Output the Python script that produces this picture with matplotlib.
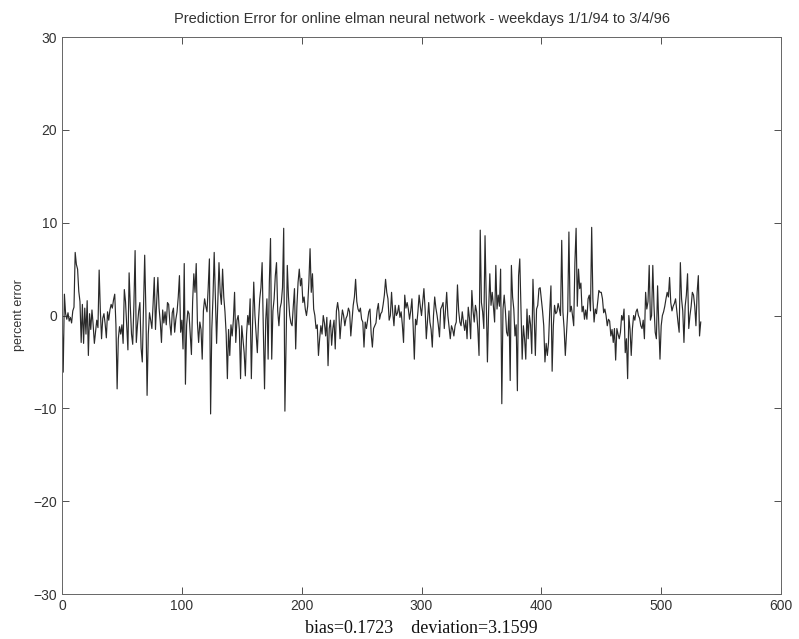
import matplotlib
matplotlib.use("Agg")
import matplotlib.pyplot as plt
import numpy as np

errors_a = [
    0.3, -6.1, 2.3, 0.2, -0.4, 0.3, -0.6, -0.2, -0.8, 0.5,
    0.9, 6.8, 5.5, 5.0, 2.6, 1.5, -2.9, 1.2, -3.0, 0.8,
    -2.0, 1.6, -4.3, 0.2, -1.5, 0.6, -1.0, -3.0, -1.8, -0.5,
    -1.3, 4.9, 0.5, -2.5, -0.3, 0.2, -0.9, -2.4, 0.4, -0.5,
    0.6, 1.2, 0.8, 1.7, 2.3, -1.0, -7.9, -2.5, -1.2, -2.0,
    -1.0, -3.0, 2.8, 1.5, -1.0, -3.7, 4.6, 1.0, -2.0, -3.1,
    1.2, 7.0, -2.9, -1.0, 0.5, 1.4,
]
errors_b = [
    -3.5, -5.0, 1.0, 6.5, 0.5, -8.6, -2.0, 0.3, -0.5, -1.4,
    1.2, 4.1, -1.5, 1.5, 4.1, 0.8, -0.7, -2.9, 0.6, -0.8,
    0.4, -1.0, 1.4, 1.2, -0.8, -2.1, 0.3, 0.8, -1.8, -0.4,
    0.4, 2.0, 4.3, -1.8, -0.5, -3.6, 5.6, -7.4, -1.0, 0.5,
    0.2, -2.0, -4.2, 1.5, 4.5, 2.5, 5.6, -0.8, -2.9, -0.7,
    -1.5, -4.7, 0.5, 1.8, 1.0, 0.4, 3.0, 6.1, -10.6, -1.5,
    2.0, 6.8,
]
errors_c = [
    2.0, -3.0, 1.5, 5.7, 2.5, 1.2, 5.0, 2.0, 0.4, -2.0,
    -6.8, -1.5, -4.3, -1.0, -2.2, -0.5, 2.5, -2.9, -0.5, 0.0,
    -1.5, -6.8, -1.1, -2.5, -4.0, -6.5, -2.0, 0.0, -1.0, 1.8,
    -6.8, -1.0, 3.6, 0.0, -2.0, -4.0, -0.5, 1.8, 3.0, 5.7,
    -1.5, -7.9, -0.5, 1.8, -4.7, 3.5, 8.3, -4.7, 0.5, 1.8,
    4.3, 5.7, 0.5, -1.1, 0.8, 1.4, 3.0, 9.4, -10.3, -2.9,
    5.4, 2.0, 0.0, -0.8, -1.1, 1.0, 2.9,
]
errors_d = [
    -3.6, 1.0, 3.6, 5.0, 3.2, 4.0, 1.4, 2.0, 0.7, 0.0,
    1.0, 3.6, 7.2, 2.5, 4.5, 0.7, 0.0, -1.4, -1.0, -4.3,
    -2.5, -1.1, -2.0, 0.0, -0.8, -2.2, -0.2, -5.4, -1.4, -0.5,
    -3.2, -1.4, -0.5, -3.6, 0.5, 1.4, 0.4, -2.5, -0.7, 0.6,
    0.0, -1.1, -0.3, 0.0, 0.8, 0.4, -2.2, -0.5, 1.1, 2.0,
    3.9, 1.5, 0.7, 0.4, 0.8, -0.4, -0.7, -3.4, -0.7, -1.4,
    -0.5, 0.4, 0.7, -2.0, -3.4, -1.4, -1.1, -0.8, 0.6, 1.3,
    -0.4,
]
errors_e = [
    0.2, 0.4, 1.2, 2.2, 3.9, 2.5, 1.8, -0.5, 0.0, 2.5,
    0.3, -1.1, 1.1, 0.0, 0.3, 1.1, -0.2, 0.4, -1.0, -2.9,
    2.2, 0.8, 1.4, 0.7, -0.4, 0.5, 1.8, -1.1, -4.7, -0.4,
    -1.0, 0.4, 2.2, 1.0, 0.0, 1.5, 2.9, 0.7, -2.5, -0.5,
    1.4, -0.7, -1.5, -3.4, 0.0, 2.0, 0.8, 0.0, -1.0, -2.3,
    0.7, 1.0, 1.4, -1.4, 0.5, 2.5, 0.0, -1.2, -2.5, -1.1,
    -1.5, -2.2, -1.1, -0.7, 3.3, 0.5, -0.7,
]
errors_f = [
    -1.1, 0.4, -0.7, -1.6, -0.5, -2.5, 0.9, -0.3, -2.5, 2.7,
    0.5, -0.7, 1.1, 0.4, -1.5, -4.3, 9.2, 1.4, 0.4, -1.4,
    8.6, 2.0, -5.0, 0.5, 4.5, 1.1, 2.5, 1.0, -0.7, 5.4,
    0.7, 2.2, 1.0, 5.0, -9.5, 0.7, 2.2, 0.5, -1.8, -2.2,
    0.5, -7.0, 5.4, 2.0, 0.7, -2.2, -1.0, -8.1, 4.3, 6.1,
    0.5, -4.7, -1.1, -2.5, -4.7, 0.7, -2.5, 0.0, -1.0, -4.1,
    3.9, 0.0, -4.3, 0.7, 1.1, 2.9,
]
errors_g = [
    3.0, 1.8, 0.5, -1.1, -5.0, -3.0, -4.3, -2.9, 0.5, 3.2,
    -6.0, -1.1, 1.1, 0.2, 0.4, 1.3, 0.7, 0.0, 8.1, 0.4,
    -1.4, -4.3, -1.8, 0.5, 9.0, 0.4, 1.0, 0.0, -1.1, 5.7,
    9.4, 1.0, 5.0, 2.9, 3.5, 0.4, 1.0, -0.4, 0.6, -0.4,
    1.8, 2.2, 0.5, 9.5, 1.8, -0.7, 0.7, 0.2, 1.4, 2.7,
    2.5, 2.5, 1.8, 0.3, 0.7, 0.0, -1.1, -0.4, -0.6, -2.2,
    -1.5, -2.9, -1.4, -4.8, -1.4, -2.0, -2.5,
]
errors_h = [
    -1.8, 0.0, -0.5, 0.7, -4.0, -2.5, -6.8, 0.0, -1.5, -4.3,
    -1.4, 0.0, -0.5, 0.4, 0.7, 0.0, -0.3, -1.1, -1.4, -0.5,
    -2.5, 2.5, 0.7, 1.5, 5.4, -0.5, 0.0, 5.4, 1.0, -1.8,
    -2.5, 3.2, -1.0, -4.7, -1.1, 0.0, 0.4, 1.0, 1.8, 2.5,
    2.0, 4.1, 1.4, 0.5, 1.0, 1.3, 1.8, 0.5, -0.7, -1.8,
    5.7, 1.8, 0.5, -2.9, 1.0, 2.2, 4.5, -1.4, 0.0, 1.0,
    2.5, 2.2, 1.0, -1.1, 2.5, 4.3, -2.2, -0.7,
]

errors = errors_a + errors_b + errors_c + errors_d + errors_e + errors_f + errors_g + errors_h
days = list(range(len(errors)))

title_text = "Prediction Error for online elman neural network - weekdays 1/1/94 to 3/4/96"
xlabel_text = "bias=0.1723    deviation=3.1599"
ylabel_text = "percent error"
xticks = [0, 100, 200, 300, 400, 500, 600]
yticks = [-30, -20, -10, 0, 10, 20, 30]

fig = plt.figure(figsize=(7.99, 6.39), dpi=100)
ax = fig.add_axes([0.0776, 0.0704, 0.8999, 0.8716])
ax.plot(days, errors, color="#2a2a2a", linewidth=0.85)
ax.set_xlim(0, 600)
ax.set_ylim(-30, 30)
ax.set_xticks(xticks)
ax.set_yticks(yticks)
ax.tick_params(direction="in", top=True, right=True, length=5, width=0.6,
               labelsize=10, colors="#333333")
for lab in ax.get_xticklabels() + ax.get_yticklabels():
    lab.set_fontfamily("Liberation Sans")
for s in ax.spines.values():
    s.set_linewidth(0.7)
    s.set_color("#666666")
ax.set_title(title_text, fontsize=10.5, family="Liberation Sans", color="#333333", pad=10)
ax.set_xlabel(xlabel_text, fontsize=13, family="Liberation Serif", color="#111111", labelpad=5)
ax.set_ylabel(ylabel_text, fontsize=9, family="Liberation Sans", color="#333333", labelpad=6)
fig.savefig("out.png", dpi=100)
